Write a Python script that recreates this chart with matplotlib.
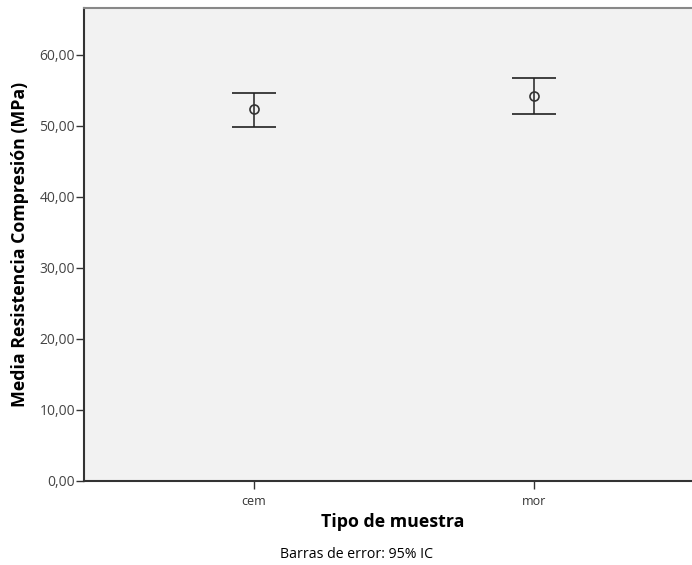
import numpy as np
import matplotlib.pyplot as plt

# group means and 95% CI bounds
groups = ['cem', 'mor']
means = [52.35, 54.2]
ci_low = [49.9, 51.7]
ci_high = [54.7, 56.7]

yticks = [0, 10, 20, 30, 40, 50, 60]
ytick_labels = ['0,00', '10,00', '20,00', '30,00', '40,00', '50,00', '60,00']

plt.rcParams['font.family'] = ['Open Sans', 'DejaVu Sans']

fig = plt.figure(figsize=(6.92, 5.65), dpi=100)
ax = fig.add_axes([84 / 692, 84 / 565, 608 / 692, 473 / 565])
ax.set_facecolor('#f2f2f2')

x = np.arange(1, len(groups) + 1)
means = np.array(means)
yerr = np.array([means - np.array(ci_low), np.array(ci_high) - means])
ax.errorbar(x, means, yerr=yerr, fmt='o', mfc='none', mec='#333333', ms=6.5,
            mew=1.2, ecolor='#222222', elinewidth=1.1, capsize=16, capthick=1.3)

ax.set_xlim(0.393, 2.564)
ax.set_ylim(0, 66.6)
ax.set_xticks(x)
ax.set_xticklabels(groups, fontsize=9, color='#333333')
ax.set_yticks(yticks)
ax.set_yticklabels(ytick_labels, fontsize=10, color='#444444')
ax.tick_params(axis='both', length=6, width=1, color='#333333')
ax.tick_params(axis='x', pad=4)
ax.tick_params(axis='y', pad=0.5)

for side in ['left', 'bottom']:
    ax.spines[side].set_color('#333333')
    ax.spines[side].set_linewidth(1.5)
ax.spines['top'].set_color('#888888')
ax.spines['top'].set_linewidth(1.5)
ax.spines['right'].set_visible(False)

ax.set_xlabel('Tipo de muestra', fontsize=12.8, fontweight='bold')
ax.xaxis.set_label_coords((393 - 84) / 608, -(513 - 481) / 473)
ax.set_ylabel('Media Resistencia Compresión (MPa)', fontsize=12.8,
              fontweight='bold')
ax.yaxis.set_label_coords(-(84 - 29) / 608, 0.5)

fig.text(357 / 692, 1 - 555 / 565, 'Barras de error: 95% IC', ha='center',
         va='center', fontsize=10.2)

fig.savefig('out.png', dpi=100)
